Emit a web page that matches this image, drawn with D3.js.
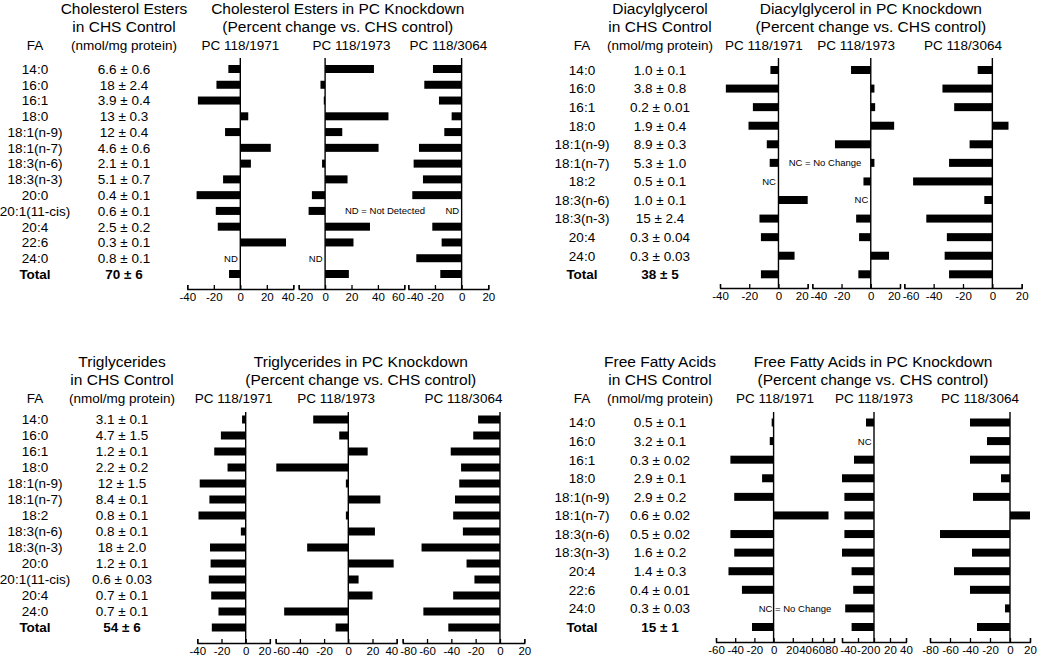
<!DOCTYPE html>
<html><head><meta charset="utf-8">
<script src="https://cdn.jsdelivr.net/npm/d3@7"></script>
<style>
body{margin:0;background:#fff}
text{font-family:"Liberation Sans",Arial,Helvetica,sans-serif;fill:#000}
</style>
</head><body>
<svg id="chart" width="1050" height="657"></svg>
<script>
// ---------------- DATA ----------------
// Cholesterol esters
const ceFA = ["14:0","16:0","16:1","18:0","18:1(n-9)","18:1(n-7)","18:3(n-6)","18:3(n-3)","20:0","20:1(11-cis)","20:4","22:6","24:0","Total"];
const ceControl = ["6.6 ± 0.6","18 ± 2.4","3.9 ± 0.4","13 ± 0.3","12 ± 0.4","4.6 ± 0.6","2.1 ± 0.1","5.1 ± 0.7","0.4 ± 0.1","0.6 ± 0.1","2.5 ± 0.2","0.3 ± 0.1","0.8 ± 0.1","70 ± 6"];
const ce1971 = [-9,-18,-32,6,-11.5,23,8,-13,-33,-18.5,-17,34.5,"ND",-8.5];
const ce1973 = [37,-3.5,-1,48,13,40.5,-2.3,17,-10,-12.5,34,21.5,"ND",18];
const ce3064 = [-21.5,-28,-17,-7.5,-13,-32,-36,-29,-37,"ND",-22,-15,-34,-16];
const ceTicks = [[-40,-20,0,20,40],[-20,0,20,40,60],[-40,-20,0,20]];

// Diacylglycerol
const dagFA = ["14:0","16:0","16:1","18:0","18:1(n-9)","18:1(n-7)","18:2","18:3(n-6)","18:3(n-3)","20:4","24:0","Total"];
const dagControl = ["1.0 ± 0.1","3.8 ± 0.8","0.2 ± 0.01","1.9 ± 0.4","8.9 ± 0.3","5.3 ± 1.0","0.5 ± 0.1","1.0 ± 0.1","15 ± 2.4","0.3 ± 0.04","0.3 ± 0.03","38 ± 5"];
const dag1971 = [-5.5,-36,-17.5,-20.5,-8,-6,"NC",20,-13,-12,11,-12];
const dag1973 = [-13.5,2.5,3,16,-24.5,2.5,-5,"NC",-10,-8,12.5,-8.5];
const dag3064 = [-10,-34,-26,11,-15.5,-29.5,-54,-5.5,-45,-31,-32.5,-29.5];
const dagTicks = [[-40,-20,0,20],[-40,-20,0,20],[-60,-40,-20,0,20]];

// Triglycerides
const tgFA = ["14:0","16:0","16:1","18:0","18:1(n-9)","18:1(n-7)","18:2","18:3(n-6)","18:3(n-3)","20:0","20:1(11-cis)","20:4","24:0","Total"];
const tgControl = ["3.1 ± 0.1","4.7 ± 1.5","1.2 ± 0.1","2.2 ± 0.2","12 ± 1.5","8.4 ± 0.1","0.8 ± 0.1","0.8 ± 0.1","18 ± 2.0","1.2 ± 0.1","0.6 ± 0.03","0.7 ± 0.1","0.7 ± 0.1","54 ± 6"];
const tg1971 = [-3,-20.5,-26,-15,-38,-30,-39,-4,-29.5,-29,-30.5,-28.5,-22.5,-28];
const tg1973 = [-29,-7.5,16,-59.5,-2,26.5,-2,22,-34,37.5,8.5,20,-53,-10.5];
const tg3064 = [-18,-22,-40.5,-32,-33.5,-37,-38.5,-30.5,-64.5,-27.5,-21,-38.5,-63,-42.5];
const tgTicks = [[-40,-20,0,20],[-60,-40,-20,0,20,40],[-80,-60,-40,-20,0,20]];

// Free fatty acids
const ffaFA = ["14:0","16:0","16:1","18:0","18:1(n-9)","18:1(n-7)","18:3(n-6)","18:3(n-3)","20:4","22:6","24:0","Total"];
const ffaControl = ["0.5 ± 0.1","3.2 ± 0.1","0.3 ± 0.02","2.9 ± 0.1","2.9 ± 0.2","0.6 ± 0.02","0.5 ± 0.02","1.6 ± 0.2","1.4 ± 0.3","0.4 ± 0.01","0.3 ± 0.03","15 ± 1"];
const ffa1971 = [-2,-4,-45,-12,-41,70,-45,-41,-47,-33,"",-22.5];
const ffa1973 = [-10,"NC",-25,-40,-37,-37,-37,-40,-28,-26,-36,-28];
const ffa3064 = [-40,-23,-40,-9,-37,20,-70,-38,-56,-40,-5,-33];
const ffaTicks = [[-60,-40,-20,0,20,40,60,80],[-40,-20,0,20,40],[-80,-60,-40,-20,0,20]];

const subTitles = ["PC 118/1971","PC 118/1973","PC 118/3064"];

// ---------------- LAYOUT ----------------
const panels = [
  {name:"Cholesterol Esters", fa:ceFA, ctrl:ceControl, series:[ce1971,ce1973,ce3064], ticks:ceTicks,
   faX:35, valX:124, top:0, rows:[69,274], zeroTop:58, axisY:289,
   scales:[{d:[-40,40],r:[187.3,293.3]},{d:[-20,60],r:[298.7,404.3]},{d:[-40,20],r:[408.3,488.3]}],
   note:{text:"ND = Not Detected", x:385, row:9}},
  {name:"Diacylglycerol", fa:dagFA, ctrl:dagControl, series:[dag1971,dag1973,dag3064], ticks:dagTicks,
   faX:582, valX:660, top:0, rows:[70,274.3], zeroTop:58, axisY:288,
   scales:[{d:[-40,20],r:[720,807.7]},{d:[-40,20],r:[812.3,900]},{d:[-60,20],r:[904.3,1021.7]}],
   note:{text:"NC = No Change", x:825, row:5}},
  {name:"Triglycerides", fa:tgFA, ctrl:tgControl, series:[tg1971,tg1973,tg3064], ticks:tgTicks,
   faX:35, valX:122, top:353, rows:[419.5,627.5], zeroTop:412, axisY:643,
   scales:[{d:[-40,20],r:[197.3,269.9]},{d:[-60,40],r:[275.7,396.7]},{d:[-80,20],r:[402.7,524.3]}],
   note:null},
  {name:"Free Fatty Acids", fa:ffaFA, ctrl:ffaControl, series:[ffa1971,ffa1973,ffa3064], ticks:ffaTicks,
   faX:582, valX:660, top:353, rows:[422.5,627], zeroTop:412, axisY:642,
   scales:[{d:[-60,40,80],r:[716,812,834]},{d:[-40,40],r:[842,906]},{d:[-80,20],r:[930,1030]}],
   note:{text:"NC = No Change", x:795, row:10}}
];

const svg = d3.select("#chart");
const FS = 13.5, TFS = 15.5, AFS = 11.5;

panels.forEach(p => {
  const g = svg.append("g");
  const y = d3.scalePoint().domain(p.fa).range(p.rows);
  const t = p.top;

  // left text block
  g.append("text").attr("x", p.valX).attr("y", t+13.5).attr("text-anchor","middle").attr("font-size",TFS).text(p.name);
  g.append("text").attr("x", p.valX).attr("y", t+31.5).attr("text-anchor","middle").attr("font-size",TFS).text("in CHS Control");
  g.append("text").attr("x", p.valX).attr("y", t+50).attr("text-anchor","middle").attr("font-size",FS).text("(nmol/mg protein)");
  g.append("text").attr("x", p.faX).attr("y", t+50).attr("text-anchor","middle").attr("font-size",FS).text("FA");

  p.fa.forEach((f,i) => {
    const bold = f === "Total";
    g.append("text").attr("x", p.faX).attr("y", y(f)).attr("dy","0.36em").attr("text-anchor","middle")
      .attr("font-size",FS).attr("font-weight", bold?"bold":null).text(f);
    g.append("text").attr("x", p.valX).attr("y", y(f)).attr("dy","0.36em").attr("text-anchor","middle")
      .attr("font-size",FS).attr("font-weight", bold?"bold":null).text(p.ctrl[i]);
  });

  // knockdown titles
  const xs = p.scales.map(s => d3.scaleLinear().domain(s.d).range(s.r));
  const allR = p.scales.flatMap(s => s.r);
  const midX = (d3.min(allR) + d3.max(allR)) / 2;
  g.append("text").attr("x", midX).attr("y", t+13.5).attr("text-anchor","middle").attr("font-size",TFS).text(p.name + " in PC Knockdown");
  g.append("text").attr("x", midX).attr("y", t+31.5).attr("text-anchor","middle").attr("font-size",TFS).text("(Percent change vs. CHS control)");

  const labels = [];
  xs.forEach((x,k) => {
    const r = x.range();
    const cx = (r[0] + r[r.length-1]) / 2;
    g.append("text").attr("x", cx).attr("y", t+50).attr("text-anchor","middle").attr("font-size",FS).text(subTitles[k]);

    const data = p.series[k];
    const rows = p.fa.map((f,i)=>({f, v:data[i]}));
    // bars
    g.selectAll(null).data(rows.filter(d => typeof d.v === "number"))
      .enter().append("rect")
      .attr("x", d => Math.min(x(0), x(d.v)))
      .attr("width", d => Math.abs(x(d.v) - x(0)))
      .attr("y", d => y(d.f) - 4)
      .attr("height", 8)
      .attr("fill", "#000");
    // labels (ND / NC)
    g.selectAll(null).data(rows.filter(d => typeof d.v === "string" && d.v))
      .enter().append("text")
      .attr("x", x(0) - 2.5).attr("y", d => y(d.f)).attr("dy","0.36em")
      .attr("text-anchor","end").attr("font-size",9.5).text(d => d.v);

    // zero line
    g.append("line").attr("x1", x(0)).attr("x2", x(0)).attr("y1", p.zeroTop).attr("y2", p.axisY)
      .attr("stroke","#000").attr("stroke-width",1.4);

    // axis
    const ax = g.append("g").attr("transform", `translate(0,${p.axisY})`)
      .call(d3.axisBottom(x).tickValues(p.ticks[k]).tickFormat(d => String(d))
        .tickSizeInner(-4).tickSizeOuter(-4).tickPadding(4));
    ax.attr("font-size", AFS).attr("font-family", null);
    ax.selectAll("path,line").attr("stroke","#000").attr("stroke-width",1.3);
    ax.selectAll("text").attr("fill","#000");
    ax.selectAll(".tick text").each(function(d){
      labels.push({node:this, x0:x(d), w:this.getBBox().width, k, shift:0});
    });
  });

  // push apart tick labels that would collide (within and between axes)
  labels.sort((a,b) => a.x0 - b.x0);
  for (let it = 0; it < 200; it++) {
    for (let i = 0; i < labels.length - 1; i++) {
      const a = labels[i], b = labels[i+1];
      const gap = a.k === b.k ? 0.3 : 2;
      const ov = (a.x0 + a.shift + a.w/2 + gap) - (b.x0 + b.shift - b.w/2);
      if (ov > 0.01) { a.shift -= ov/2; b.shift += ov/2; }
    }
  }
  labels.forEach(l => d3.select(l.node).attr("x", l.shift));

  if (p.note) {
    g.append("text").attr("x", p.note.x).attr("y", y(p.fa[p.note.row])).attr("dy","0.36em")
      .attr("text-anchor","middle").attr("font-size",9.5).text(p.note.text);
  }
});
</script>
</body></html>
